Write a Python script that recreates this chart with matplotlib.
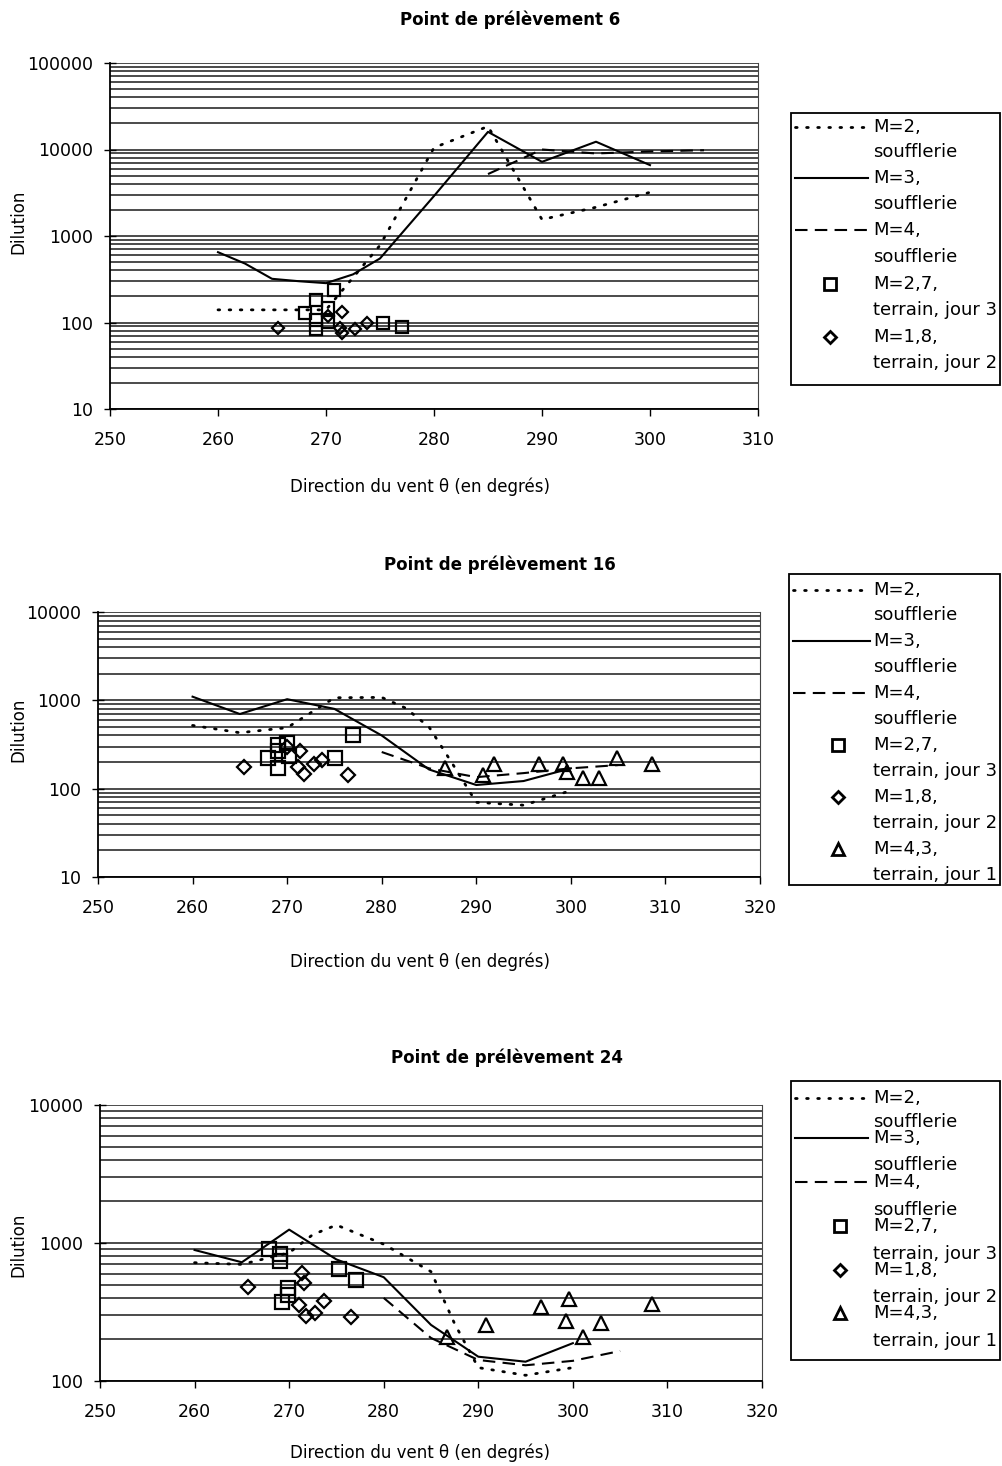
import matplotlib
matplotlib.use("Agg")
import matplotlib.pyplot as plt
from matplotlib.ticker import FixedLocator, LogLocator, NullFormatter, FuncFormatter
from matplotlib.patches import Rectangle

plt.rcParams['font.family'] = ['DejaVu Sans']

# ---------------- Point de prélèvement 6 ----------------
p6_theta_m2 = [260, 265, 270, 275, 280, 285, 290, 295, 300]
p6_dil_m2 = [140, 140, 140, 780, 10500, 18500, 1550, 2150, 3200]
p6_theta_m3 = [260, 262.5, 265, 267.5, 270, 272.5, 275, 280, 285, 290, 295, 300]
p6_dil_m3 = [650, 480, 320, 300, 285, 360, 550, 2900, 16000, 7200, 12300, 6600]
p6_theta_m4 = [285, 290, 295, 300, 305]
p6_dil_m4 = [5200, 10000, 9000, 9500, 9800]
p6_theta_j3 = [268.1, 269.1, 269.1, 269.1, 270.2, 270.2, 270.7, 275.3, 277.0]
p6_dil_j3 = [128, 182, 107, 85, 146, 102, 238, 98, 89]
p6_theta_j2 = [265.6, 270.2, 271.5, 271.3, 271.5, 272.7, 273.8]
p6_dil_j2 = [86, 118, 133, 86, 75, 83, 100]

# ---------------- Point de prélèvement 16 ----------------
p16_theta_m2 = [260, 265, 270, 275, 280, 282.5, 285, 287.5, 290, 295, 300]
p16_dil_m2 = [520, 430, 490, 1070, 1080, 820, 500, 190, 70, 65, 95]
p16_theta_m3 = [260, 265, 270, 275, 280, 285, 290, 295, 300]
p16_dil_m3 = [1100, 700, 1030, 800, 400, 165, 110, 122, 170]
p16_theta_m4 = [280, 285, 290, 295, 300, 305]
p16_dil_m4 = [260, 170, 135, 150, 170, 185]
p16_theta_j3 = [268.0, 269.0, 269.0, 269.0, 270.0, 270.2, 275.1, 277.0]
p16_dil_j3 = [225, 170, 315, 270, 325, 235, 225, 400]
p16_theta_j2 = [265.4, 270.0, 271.1, 271.4, 271.8, 272.8, 273.7, 276.4]
p16_dil_j2 = [178, 300, 175, 265, 145, 191, 210, 142]
p16_theta_j1 = [286.7, 290.7, 291.9, 296.6, 299.2, 299.6, 301.3, 303.0, 304.9, 308.6]
p16_dil_j1 = [170, 142, 190, 190, 190, 155, 131, 131, 224, 190]

# ---------------- Point de prélèvement 24 ----------------
p24_theta_m2 = [260, 265, 270, 272.5, 275, 280, 285, 287.5, 290, 295, 300]
p24_dil_m2 = [720, 700, 850, 1150, 1350, 980, 620, 260, 125, 110, 125]
p24_theta_m3 = [260, 265, 270, 275, 280, 285, 290, 295, 300]
p24_dil_m3 = [890, 725, 1250, 760, 565, 255, 150, 138, 188]
p24_theta_m4 = [280, 285, 290, 295, 300, 305]
p24_dil_m4 = [400, 205, 142, 130, 140, 165]
p24_theta_j3 = [267.9, 269.0, 269.0, 275.3, 277.1, 269.9, 269.9, 269.2]
p24_dil_j3 = [905, 830, 735, 645, 535, 470, 420, 375]
p24_theta_j2 = [265.7, 271.4, 271.6, 273.7, 271.0, 272.7, 271.8, 276.5]
p24_dil_j2 = [480, 610, 515, 380, 355, 313, 295, 290]
p24_theta_j1 = [286.7, 290.8, 296.6, 299.6, 299.3, 301.1, 303.0, 308.4]
p24_dil_j1 = [210, 255, 345, 395, 272, 210, 263, 360]

titles = ["Point de prélèvement 6", "Point de prélèvement 16", "Point de prélèvement 24"]
xlabel_text = "Direction du vent θ (en degrés)"
ylabel_text = "Dilution"
labels_m = [["M=2,", "soufflerie"], ["M=3,", "soufflerie"], ["M=4,", "soufflerie"]]
labels_t = [["M=2,7,", "terrain, jour 3"], ["M=1,8,", "terrain, jour 2"],
            ["M=4,3,", "terrain, jour 1"]]

W, H = 1002, 1466
fig = plt.figure(figsize=(W / 100, H / 100), dpi=100)
fig.patch.set_facecolor('white')

FS = 12.5
STYLE_M2 = dict(color='black', lw=2.0, linestyle=(0, (0.6, 3.4)), dash_capstyle='round')
STYLE_M3 = dict(color='black', lw=1.5, linestyle='-')
STYLE_M4 = dict(color='black', lw=1.5, linestyle=(0, (6, 3.5)))


def px_axes(left, top, right, bottom):
    return fig.add_axes([left / W, 1 - bottom / H, (right - left) / W, (bottom - top) / H])


def setup_axes(ax, xlim, xticks, ylim, yticks):
    ax.set_xscale('linear')
    ax.set_yscale('log')
    ax.set_xlim(*xlim)
    ax.set_ylim(*ylim)
    ax.xaxis.set_major_locator(FixedLocator(xticks))
    ax.yaxis.set_major_locator(FixedLocator(yticks))
    ax.yaxis.set_major_formatter(FuncFormatter(lambda v, p: f"{int(round(v))}"))
    ax.yaxis.set_minor_locator(LogLocator(base=10, subs=range(2, 10)))
    ax.yaxis.set_minor_formatter(NullFormatter())
    ax.grid(True, which='both', axis='y', color='#1a1a1a', lw=1.1)
    ax.grid(False, axis='x')
    ax.set_axisbelow(True)
    ax.tick_params(axis='x', direction='out', length=5, width=1.0, pad=11, labelsize=FS)
    ax.tick_params(axis='y', which='major', direction='inout', length=9, width=1.0,
                   pad=8, labelsize=FS)
    ax.tick_params(axis='y', which='minor', length=0)
    for s in ('left', 'bottom'):
        ax.spines[s].set_linewidth(1.3)
        ax.spines[s].set_color('black')
    ax.spines['top'].set_visible(False)
    ax.spines['right'].set_linewidth(0.8)
    ax.spines['right'].set_color('#444444')


def draw_series(ax, tm2, dm2, tm3, dm3, tm4, dm4, pts, ms):
    ax.plot(tm2, dm2, **STYLE_M2)
    ax.plot(tm3, dm3, **STYLE_M3)
    ax.plot(tm4, dm4, **STYLE_M4)
    markers = ['s', 'D', '^']
    sizes = [ms, ms * 0.72, ms]
    for (t, d), mk, sz in zip(pts, markers, sizes):
        ax.plot(t, d, linestyle='none', marker=mk, ms=sz, mfc='none', mec='black', mew=1.6)


def draw_legend(box, text_x, handle_x, marker_x, rows, second_rows, n_markers):
    left, top, right, bottom = box
    lax = px_axes(left, top, right + 1, bottom + 1)
    lax.set_xlim(left, right + 1)
    lax.set_ylim(bottom + 1, top)
    lax.axis('off')
    lax.add_patch(Rectangle((left + 0.5, top + 0.5), right - left - 1, bottom - top - 1,
                            fill=False, ec='black', lw=1.3, clip_on=False))
    styles = [STYLE_M2, STYLE_M3, STYLE_M4]
    for i in range(3):
        lax.plot(handle_x, [rows[i], rows[i]], **styles[i])
    markers = ['s', 'D', '^']
    msz = [8, 6, 8]
    for j in range(n_markers):
        lax.plot([marker_x], [rows[3 + j]], linestyle='none', marker=markers[j], ms=msz[j],
                 mfc='none', mec='black', mew=2.0)
    labels = labels_m + labels_t[:n_markers]
    for k, lab in enumerate(labels):
        lax.text(text_x, rows[k], lab[0], fontsize=FS + 0.5, va='center', ha='left')
        lax.text(text_x, second_rows[k], lab[1], fontsize=FS + 0.5, va='center', ha='left')


def frame_texts(title_xy, title, xlabel_xy, ylabel_xy):
    fig.text(title_xy[0] / W, 1 - title_xy[1] / H, title, ha='center', va='center',
             fontsize=12, fontweight='bold')
    fig.text(xlabel_xy[0] / W, 1 - xlabel_xy[1] / H, xlabel_text, ha='center',
             va='center', fontsize=12)
    fig.text(ylabel_xy[0] / W, 1 - ylabel_xy[1] / H, ylabel_text, ha='center',
             va='center', fontsize=12, rotation=90)


# Panel 1
ax1 = px_axes(110, 63, 758, 409)
setup_axes(ax1, (250, 310), range(250, 311, 10), (10, 100000), [10, 100, 1000, 10000, 100000])
draw_series(ax1, p6_theta_m2, p6_dil_m2, p6_theta_m3, p6_dil_m3, p6_theta_m4, p6_dil_m4,
            [(p6_theta_j3, p6_dil_j3), (p6_theta_j2, p6_dil_j2)], 8.5)
frame_texts((510, 20), titles[0], (420, 487), (18, 222))
draw_legend((790, 112, 1000, 385), 873, [795, 868], 830,
            [127, 178, 230, 284, 337], [152, 204, 257, 310, 363], 2)

# Panel 2
ax2 = px_axes(98, 612, 760, 877)
setup_axes(ax2, (250, 320), range(250, 321, 10), (10, 10000), [10, 100, 1000, 10000])
draw_series(ax2, p16_theta_m2, p16_dil_m2, p16_theta_m3, p16_dil_m3, p16_theta_m4, p16_dil_m4,
            [(p16_theta_j3, p16_dil_j3), (p16_theta_j2, p16_dil_j2),
             (p16_theta_j1, p16_dil_j1)], 10)
frame_texts((500, 565), titles[1], (420, 962), (18, 730))
draw_legend((788, 573, 1000, 885), 873, [793, 870], 838,
            [590, 641, 693, 745, 797, 849], [615, 667, 719, 771, 823, 875], 3)

# Panel 3
ax3 = px_axes(100, 1105, 762, 1381)
setup_axes(ax3, (250, 320), range(250, 321, 10), (100, 10000), [100, 1000, 10000])
draw_series(ax3, p24_theta_m2, p24_dil_m2, p24_theta_m3, p24_dil_m3, p24_theta_m4, p24_dil_m4,
            [(p24_theta_j3, p24_dil_j3), (p24_theta_j2, p24_dil_j2),
             (p24_theta_j1, p24_dil_j1)], 10)
frame_texts((507, 1058), titles[2], (420, 1453), (18, 1245))
draw_legend((790, 1080, 1000, 1360), 873, [795, 868], 840,
            [1098, 1138, 1182, 1226, 1270, 1313], [1122, 1165, 1210, 1254, 1297, 1341], 3)

fig.savefig("out.png", dpi=100, facecolor='white')
